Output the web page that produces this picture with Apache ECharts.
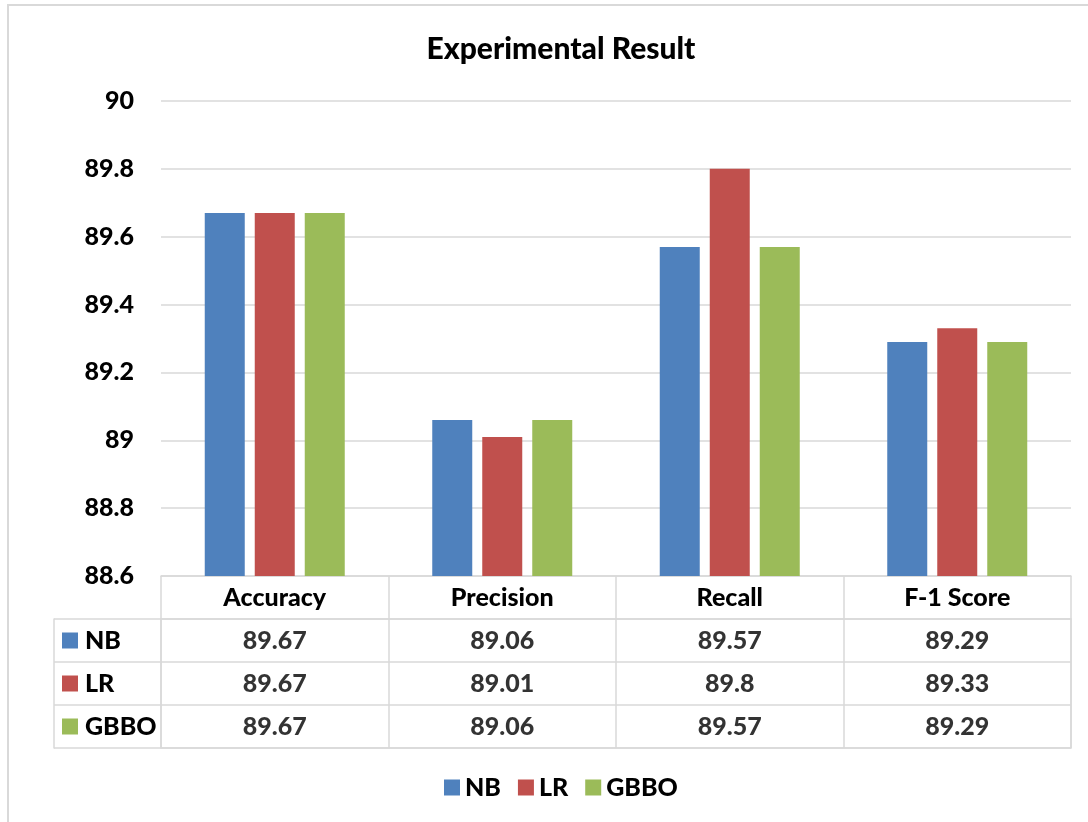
<!DOCTYPE html>
<html>
<head>
<meta charset="utf-8">
<script src="https://cdn.jsdelivr.net/npm/echarts@6/dist/echarts.min.js"></script>
<style>
html,body{margin:0;padding:0;background:#fff;}
#frame{position:absolute;left:7px;top:4px;width:1100px;height:840px;border:2px solid #d9d9d9;box-sizing:border-box;}
#chart{position:absolute;left:0;top:0;width:1088px;height:822px;}
</style>
</head>
<body>
<div id="frame"></div>
<div id="chart"></div>
<script>
const categories = ['Accuracy', 'Precision', 'Recall', 'F-1 Score'];
const seriesNames = ['NB', 'LR', 'GBBO'];
const nbValues = [89.67, 89.06, 89.57, 89.29];
const lrValues = [89.67, 89.01, 89.8, 89.33];
const gbboValues = [89.67, 89.06, 89.57, 89.29];
const yTicks = { min: 88.6, max: 90, interval: 0.2 };
const colors = ['#4f81bd', '#c0504d', '#9bbb59'];

const allValues = [nbValues, lrValues, gbboValues];
const FONT = 'Lato';
const W = 900;
const GRID = '#d9d9d9';

const cellData = [];
allValues.forEach((vals, r) => vals.forEach((v, c) => cellData.push([c, r, v])));

const rich = {};
seriesNames.forEach((n, i) => { rich['s' + i] = { width: 16, height: 16, backgroundColor: colors[i] }; });
rich.t = { fontFamily: FONT, fontWeight: W, fontSize: 25, color: '#000', padding: [0, 0, 0, 7] };

const chart = echarts.init(document.getElementById('chart'));
chart.setOption({
  animation: false,
  title: {
    text: 'Experimental Result', left: 556, top: 29, textAlign: 'center',
    textStyle: { fontFamily: FONT, fontWeight: W, fontSize: 30, color: '#000' }
  },
  legend: {
    data: seriesNames, left: 439, top: 770, icon: 'rect', itemWidth: 16, itemHeight: 16, itemGap: 17,
    textStyle: { fontFamily: FONT, fontWeight: W, fontSize: 25, color: '#000' }
  },
  grid: [
    { left: 161, right: 17, top: 101, height: 475 },
    { left: 161, right: 17, top: 619, height: 129, show: true, borderColor: GRID, borderWidth: 1.5 }
  ],
  xAxis: [
    {
      type: 'category', gridIndex: 0, data: categories,
      axisLine: { lineStyle: { color: GRID, width: 1.5 } },
      axisTick: { show: true, length: 43, interval: 0, lineStyle: { color: GRID, width: 1.5 } },
      axisLabel: { interval: 0, margin: 9, fontFamily: FONT, fontWeight: W, fontSize: 25, color: '#000' }
    },
    {
      type: 'category', gridIndex: 1, data: categories,
      axisLine: { show: false }, axisTick: { show: false }, axisLabel: { show: false },
      splitLine: { show: true, interval: 0, lineStyle: { color: GRID, width: 1.5 } }
    }
  ],
  yAxis: [
    {
      type: 'value', gridIndex: 0, min: yTicks.min, max: yTicks.max, interval: yTicks.interval,
      axisLine: { show: false }, axisTick: { show: false },
      splitLine: { lineStyle: { color: GRID, width: 1.5 } },
      axisLabel: { margin: 27, fontFamily: FONT, fontWeight: W, fontSize: 25, color: '#000',
        formatter: v => String(Math.round(v * 10) / 10) }
    },
    {
      type: 'category', gridIndex: 1, data: seriesNames, inverse: true,
      axisLine: { show: false },
      axisTick: { show: true, length: 107, interval: 0, lineStyle: { color: GRID, width: 1.5 } },
      splitLine: { show: true, interval: 0, lineStyle: { color: GRID, width: 1.5 } },
      axisLabel: {
        interval: 0, align: 'left', margin: 99,
        formatter: (v, i) => '{s' + i + '|}{t|' + v + '}', rich: rich
      }
    },
    {
      type: 'category', gridIndex: 1, data: seriesNames, inverse: true, position: 'left', offset: 107,
      axisLine: { show: true, lineStyle: { color: GRID, width: 1.5 } },
      axisTick: { show: false }, axisLabel: { show: false }
    }
  ],
  series: [
    ...seriesNames.map((n, i) => ({
      name: n, type: 'bar', xAxisIndex: 0, yAxisIndex: 0, data: allValues[i],
      barWidth: 40, barGap: '25%', itemStyle: { color: colors[i] }
    })),
    {
      name: 'table', type: 'scatter', xAxisIndex: 1, yAxisIndex: 1, data: cellData,
      symbolSize: 1, itemStyle: { color: 'rgba(0,0,0,0)' }, silent: true,
      label: { show: true, position: 'inside', formatter: p => String(p.value[2]),
        fontFamily: FONT, fontWeight: W, fontSize: 25, color: '#000' }
    }
  ]
});
</script>
</body>
</html>
